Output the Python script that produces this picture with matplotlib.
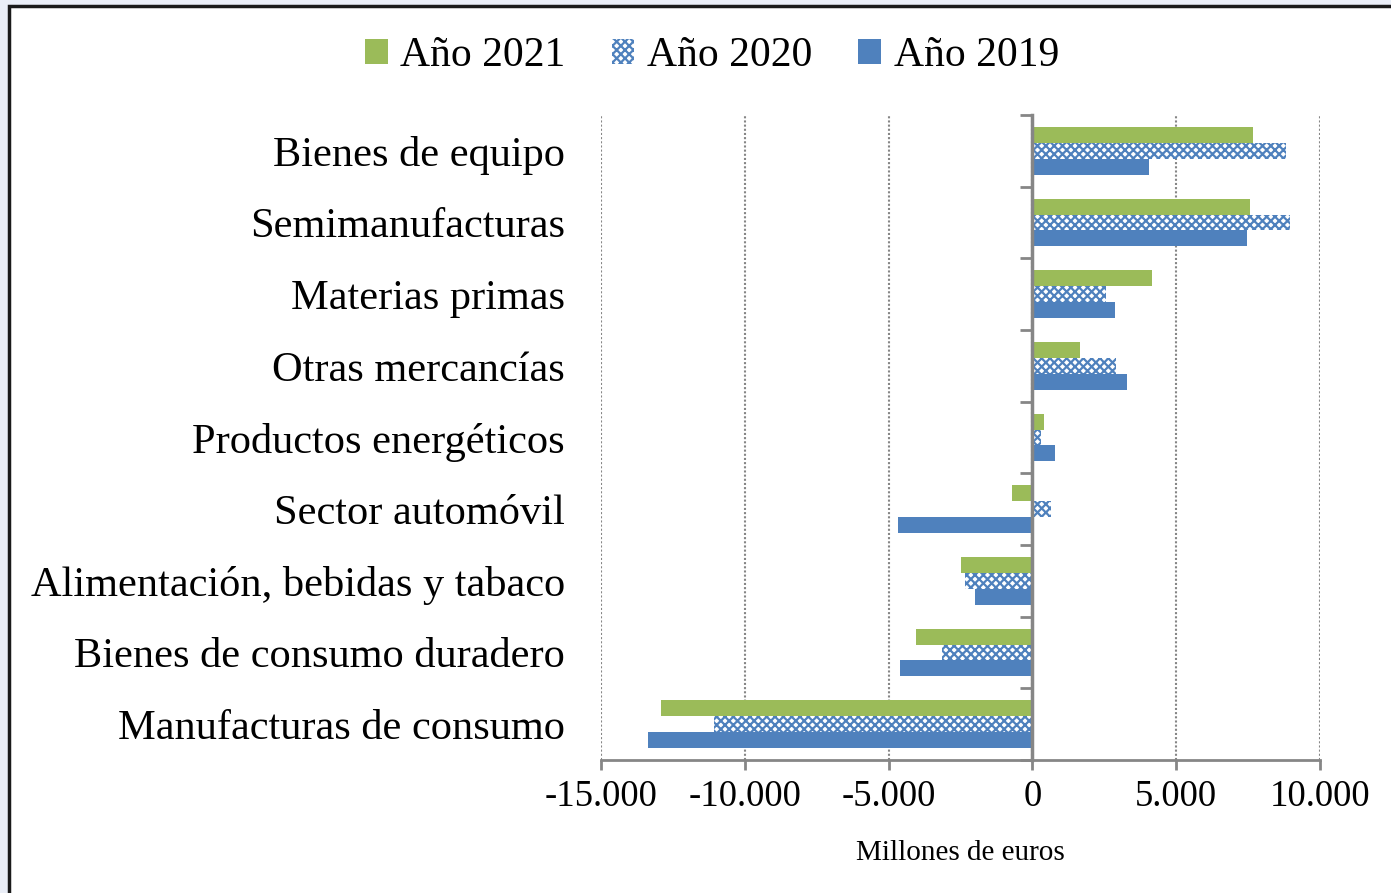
import matplotlib
matplotlib.use("Agg")
import matplotlib.pyplot as plt
from matplotlib.patches import Rectangle
from matplotlib.ticker import FuncFormatter
import numpy as np

plt.rcParams['font.family'] = ['Liberation Serif', 'DejaVu Serif']
plt.rcParams['axes.unicode_minus'] = False
plt.rcParams['hatch.linewidth'] = 1.6

categories = ["Bienes de equipo", "Semimanufacturas", "Materias primas",
              "Otras mercancías", "Productos energéticos", "Sector automóvil",
              "Alimentación, bebidas y tabaco", "Bienes de consumo duradero",
              "Manufacturas de consumo"]
y2021 = [7680, 7580, 4170, 1670, 420, -700, -2500, -4030, -12900]
y2020 = [8830, 8970, 2560, 2890, 300, 660, -2360, -3130, -11060]
y2019 = [4070, 7475, 2870, 3290, 800, -4660, -1980, -4590, -13380]
xticks = [-15000, -10000, -5000, 0, 5000, 10000]

green = '#9BBB59'
blue = '#4F81BD'
gray = '#868686'

fig = plt.figure(figsize=(13.91, 8.93), dpi=100)
fig.patch.set_facecolor('#EAEEF7')
fig.patches.append(Rectangle((9/1391, -0.05), 1.1, 1 - 6/893 + 0.05,
                             transform=fig.transFigure, facecolor='white',
                             edgecolor='#1a1a1a', linewidth=2.5, zorder=-5))

ax = fig.add_axes([601/1391, 1 - 760/893, 719/1391, 645/893])
ax.set_facecolor('none')
ax.set_zorder(2)

pos = np.arange(len(categories))
h = 0.223
ax.barh(pos - h, y2021, height=h, color=green, linewidth=0, label='Año 2021', zorder=3)
ax.barh(pos, y2020, height=h, facecolor='white', edgecolor=blue, hatch='xxxx',
        linewidth=0, label='Año 2020', zorder=3)
ax.barh(pos + h, y2019, height=h, color=blue, linewidth=0, label='Año 2019', zorder=3)

ax.set_xlim(-15000, 10000)
ax.set_ylim(len(categories) - 0.5, -0.5)

ax.set_xticks(xticks)
ax.xaxis.set_major_formatter(FuncFormatter(
    lambda v, p: f"{int(v):,}".replace(",", ".")))
ax.tick_params(axis='x', direction='out', length=7, width=2, color=gray,
               labelsize=26.5, pad=7)
ax.grid(axis='x', color=gray, linestyle=(0, (1, 1)), linewidth=1.5, zorder=1)

for s in ['top', 'right']:
    ax.spines[s].set_visible(False)
ax.spines['bottom'].set_color(gray)
ax.spines['bottom'].set_linewidth(2)
ax.spines['left'].set_position(('data', 0))
ax.spines['left'].set_color(gray)
ax.spines['left'].set_linewidth(2.5)
ax.spines['left'].set_zorder(4)
ax.set_yticks([])
ax.set_yticks(np.arange(-0.5, len(categories)), minor=True)
ax.tick_params(axis='y', which='minor', direction='out', length=9, width=2, color=gray)

sec = ax.secondary_yaxis(0)
sec.set_yticks(pos, labels=categories)
sec.tick_params(length=0, pad=26, labelsize=30.5)
sec.spines['left'].set_visible(False)

ax.set_xlabel('Millones de euros', fontsize=21, va='center')
ax.xaxis.set_label_coords(0.5, -(853 - 760) / 645)

handles, labels = ax.get_legend_handles_labels()
fig.legend(handles, labels, loc='center', bbox_to_anchor=(712/1391, 1 - 56/893),
           ncol=3, frameon=False, fontsize=30, handlelength=0.55, handleheight=0.55,
           handletextpad=0.3, columnspacing=1.1)

fig.savefig('out.png', dpi=100, facecolor=fig.get_facecolor())
